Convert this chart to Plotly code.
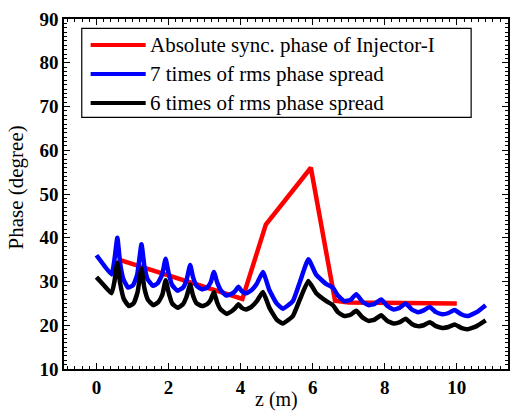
import plotly.graph_objects as go

# Absolute synchronous phase of Injector-I
z_sync = [0.62, 4.05, 4.70, 5.95, 6.62, 7.00, 10.0]
phi_sync = [35.0, 26.0, 43.0, 56.0, 25.6, 25.2, 25.0]

# 7 times rms phase spread
z_rms7 = [0.00, 0.20, 0.42, 0.50, 0.58, 0.66, 0.75, 0.88, 1.02, 1.13, 1.25, 1.33, 1.42, 1.57,
          1.70, 1.82, 1.92, 2.00, 2.10, 2.25, 2.40, 2.50, 2.60, 2.68, 2.78, 2.93, 3.07, 3.17,
          3.26, 3.35, 3.45, 3.60, 3.75, 3.85, 3.94, 4.03, 4.15, 4.30, 4.45, 4.62, 4.80, 5.00,
          5.17, 5.45, 5.65, 5.88, 6.10, 6.38, 6.56, 6.70, 6.88, 7.05, 7.21, 7.38, 7.55, 7.72,
          7.90, 8.07, 8.25, 8.42, 8.58, 8.75, 8.92, 9.08, 9.25, 9.42, 9.60, 9.77, 9.94, 10.12,
          10.30, 10.55, 10.80]
phi_rms7 = [36.0, 33.8, 31.6, 35.0, 40.0, 34.0, 30.5, 28.6, 29.2, 31.5, 38.5, 33.5, 30.5, 29.0,
            29.6, 31.5, 35.2, 32.0, 29.2, 27.9, 28.6, 30.3, 33.8, 31.0, 29.0, 28.2, 28.6, 29.8,
            32.2, 29.8, 28.0, 26.8, 27.2, 27.8, 28.8, 27.8, 27.3, 28.0, 29.5, 32.2, 28.0, 25.0,
            23.8, 25.5, 30.0, 35.1, 31.5, 29.4, 28.6, 26.8, 25.5, 25.8, 27.1, 25.4, 24.6, 24.9,
            25.9, 24.4, 23.6, 24.0, 25.0, 23.6, 23.0, 23.4, 24.2, 23.0, 22.5, 22.8, 23.5, 22.5,
            22.1, 23.0, 24.6]

# 6 times rms phase spread
z_rms6 = [0.00, 0.20, 0.42, 0.50, 0.58, 0.66, 0.76, 0.90, 1.03, 1.14, 1.25, 1.33, 1.43, 1.58,
          1.72, 1.83, 1.92, 2.00, 2.10, 2.25, 2.40, 2.50, 2.60, 2.68, 2.78, 2.93, 3.07, 3.17,
          3.26, 3.35, 3.45, 3.62, 3.75, 3.85, 3.94, 4.03, 4.15, 4.30, 4.45, 4.62, 4.80, 5.00,
          5.17, 5.45, 5.65, 5.88, 6.10, 6.38, 6.56, 6.70, 6.88, 7.05, 7.21, 7.38, 7.55, 7.72,
          7.90, 8.07, 8.25, 8.42, 8.58, 8.75, 8.92, 9.08, 9.25, 9.42, 9.60, 9.77, 9.94, 10.12,
          10.30, 10.55, 10.80]
phi_rms6 = [31.0, 29.2, 27.3, 30.0, 34.3, 29.5, 26.0, 24.4, 25.0, 27.5, 33.0, 28.5, 25.8, 24.6,
            25.3, 27.0, 30.3, 27.6, 25.0, 24.0, 24.8, 26.5, 29.3, 26.8, 25.0, 24.4, 24.8, 25.8,
            27.6, 25.2, 23.6, 22.6, 23.2, 23.9, 24.8, 24.0, 23.6, 24.2, 25.5, 27.6, 24.0, 21.3,
            20.4, 22.1, 26.0, 30.1, 27.3, 25.5, 24.6, 23.0, 22.1, 22.4, 23.3, 21.8, 21.0, 21.3,
            22.3, 21.0, 20.4, 20.7, 21.5, 20.3, 19.8, 20.0, 20.7, 19.8, 19.4, 19.6, 20.2, 19.4,
            19.1, 19.8, 21.1]

labels = ["Absolute sync. phase of Injector-I",
          "7 times of rms phase spread",
          "6 times of rms phase spread"]
colors = ["#ff0000", "#0000ff", "#000000"]

x_ticks = [0, 2, 4, 6, 8, 10]
y_ticks = [10, 20, 30, 40, 50, 60, 70, 80, 90]

FONT = "Liberation Serif, Times New Roman, serif"

fig = go.Figure()
fig.add_trace(go.Scatter(x=z_sync, y=phi_sync, mode="lines",
                         line=dict(color=colors[0], width=4.5), name=labels[0]))
fig.add_trace(go.Scatter(x=z_rms7, y=phi_rms7, mode="lines",
                         line=dict(color=colors[1], width=4.5, shape="spline", smoothing=0.4),
                         name=labels[1]))
fig.add_trace(go.Scatter(x=z_rms6, y=phi_rms6, mode="lines",
                         line=dict(color=colors[2], width=4.5, shape="spline", smoothing=0.4),
                         name=labels[2]))

# manual legend (box, line samples, text)
fig.add_shape(type="rect", xref="paper", yref="paper", x0=0.040, x1=0.917, y0=0.719, y1=0.973,
              line=dict(color="black", width=1.2), fillcolor="white", layer="above")
rows = [0.926, 0.843, 0.760]
for lab, col, yy in zip(labels, colors, rows):
    fig.add_shape(type="line", xref="paper", yref="paper", x0=0.060, x1=0.184, y0=yy, y1=yy,
                  line=dict(color=col, width=4), layer="above")
    fig.add_annotation(xref="paper", yref="paper", x=0.190, y=yy, text=lab, showarrow=False,
                       xanchor="left", yanchor="middle",
                       font=dict(family=FONT, size=21, color="black"))

# axis titles
fig.add_annotation(xref="paper", yref="paper", x=0.478, y=-0.122, text="z (m)", showarrow=False,
                   xanchor="center", yanchor="bottom", borderpad=0,
                   font=dict(family=FONT, size=20, color="black"))
fig.add_annotation(xref="paper", yref="paper", x=-0.107, y=0.52, text="Phase (degree)",
                   showarrow=False, textangle=-90, xanchor="center", yanchor="middle",
                   font=dict(family=FONT, size=21, color="black"))

axis_common = dict(showline=True, mirror="allticks", linecolor="black", linewidth=1.5,
                   ticks="inside", ticklen=6, tickwidth=1.2, tickcolor="black",
                   showgrid=False, zeroline=False,
                   tickfont=dict(family=FONT, size=19, color="black", weight="bold"))

fig.update_xaxes(range=[-0.9, 11.42], tickvals=x_ticks,
                 minor=dict(dtick=0.2, ticks="inside", ticklen=3, tickcolor="black", tickwidth=1),
                 **axis_common)
fig.update_yaxes(range=[10, 90], tickvals=y_ticks,
                 minor=dict(dtick=1, ticks="inside", ticklen=3, tickcolor="black", tickwidth=1),
                 **axis_common)

fig.update_layout(width=512, height=413, margin=dict(l=64, r=4, t=19, b=44, autoexpand=False),
                  paper_bgcolor="white", plot_bgcolor="white", showlegend=False)

fig.write_html("out.html")
